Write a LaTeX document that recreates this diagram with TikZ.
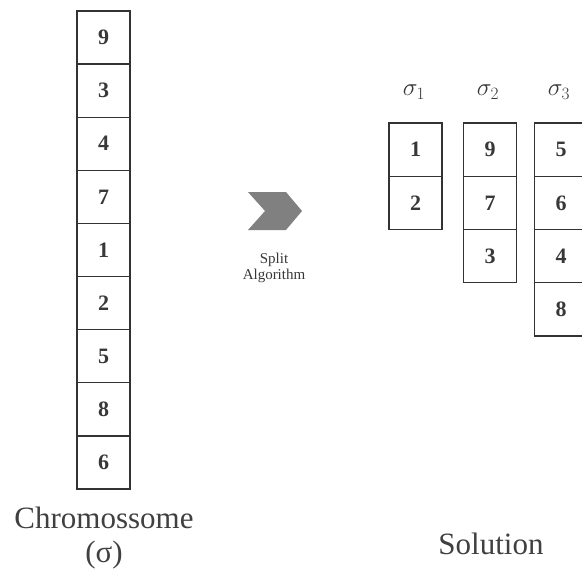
\documentclass[tikz,border=0pt]{standalone}
\usepackage{fontspec}
\setmainfont{Liberation Serif}
\begin{document}
\begin{tikzpicture}[x=1pt,y=-1pt,
  cell/.style={draw=black!80, line width=1.3pt, minimum width=53pt, minimum height=53.2pt,
    inner sep=0pt, text=black!78, font=\fontsize{22}{22}\selectfont\bfseries},
  caption/.style={text=black!75, font=\fontsize{31}{34}\selectfont, align=center},
  small/.style={text=black!78, font=\fontsize{15}{15.5}\selectfont, align=center},
  setlabel/.style={text=black!78, font=\fontsize{24}{24}\selectfont},
  chevron/.style={fill=black!50}]
\useasboundingbox (0,0) rectangle (582,579);
\clip (0,0) rectangle (582,579);

% chromosome column
\foreach \v [count=\i from 0] in {9,3,4,7,1,2,5,8,6}
  \node[cell] (c\i) at (103.5, 11+53.1*\i+26.55) {\v};
\node[caption] (chrom) at (104, 538) {Chromossome\\(σ)};

% split operator
\fill[chevron] (248,192) -- (286,192) -- (302,211) -- (286,230) -- (248,230) -- (265,211) -- cycle;
\node[small] (splitlbl) at (274,268) {Split\\Algorithm};

% routes
\foreach \v [count=\i from 0] in {1,2}
  \node[cell] (a\i) at (415.5, 123+53.25*\i+26.6) {\v};
\foreach \v [count=\i from 0] in {9,7,3}
  \node[cell] (b\i) at (490, 123+53.25*\i+26.6) {\v};
\foreach \v [count=\i from 0] in {5,6,4,8}
  \node[cell] (d\i) at (561, 123+53.25*\i+26.6) {\v};

\node[setlabel] (s1) at (414,92) {$\sigma_1$};
\node[setlabel] (s2) at (488,92) {$\sigma_2$};
\node[setlabel] (s3) at (559,92) {$\sigma_3$};

\node[caption] (sol) at (491,544) {Solution};
\end{tikzpicture}
\end{document}
